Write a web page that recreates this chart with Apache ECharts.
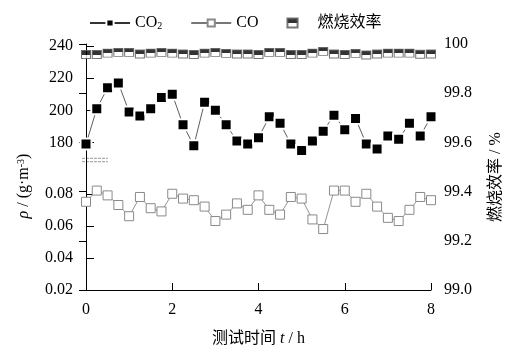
<!DOCTYPE html>
<html><head><meta charset="utf-8">
<script src="https://cdn.jsdelivr.net/npm/echarts@6/dist/echarts.min.js"></script>
<style>html,body{margin:0;padding:0;background:#fff}#c{width:506px;height:347px}</style>
</head><body><div id="c"></div>
<script>
const hours = [0,0.25,0.5,0.75,1,1.25,1.5,1.75,2,2.25,2.5,2.75,3,3.25,3.5,3.75,4,4.25,4.5,4.75,5,5.25,5.5,5.75,6,6.25,6.5,6.75,7,7.25,7.5,7.75,8];
const co2 = [179,201,214,217,199,196.5,201,208,210,191,178,205,200,191,181,179,183,196,192,179,175,181,187,197,188,195,179,176,184,182,192,184,196];
const co = [0.075,0.082,0.079,0.073,0.066,0.078,0.071,0.069,0.080,0.077,0.076,0.072,0.063,0.067,0.074,0.070,0.079,0.070,0.067,0.078,0.077,0.064,0.058,0.082,0.082,0.075,0.080,0.072,0.065,0.063,0.070,0.078,0.076];
const efficiency = [99.957,99.957,99.963,99.966,99.966,99.959,99.963,99.966,99.963,99.959,99.957,99.963,99.966,99.962,99.959,99.959,99.957,99.966,99.966,99.957,99.957,99.963,99.970,99.959,99.957,99.962,99.955,99.959,99.963,99.963,99.963,99.958,99.959];
const co2Ticks = [180,200,220,240];
const coTicks = [0.02,0.04,0.06,0.08];

const FONT = "'Liberation Serif', 'Noto Sans CJK SC', serif";
const chart = echarts.init(document.getElementById('c'), null, {renderer:'canvas'});
const pair = arr => hours.map((h,i)=>[h, arr[i]]);
const black = {color:'#000', width:1};
const lbl = {fontFamily:FONT, fontSize:16, color:'#000'};
const halfFill = new echarts.graphic.LinearGradient(0,0,0,1,[
  {offset:0,color:'#000'},{offset:0.5,color:'#000'},{offset:0.5,color:'#fff'},{offset:1,color:'#fff'}]);

const option = {
  animation:false,
  textStyle:{fontFamily:FONT},
  legend:{
    top:10, left:84, itemWidth:40, itemHeight:9, itemGap:28,
    data:['CO2','CO',{name:'燃烧效率',icon:'path://M0,0h9v8h-9z'}],
    formatter: n => n==='CO2' ? 'CO{sub|2}' : n,
    textStyle:{fontFamily:FONT, fontSize:16, color:'#000',
      rich:{sub:{fontFamily:FONT, fontSize:10, color:'#000', verticalAlign:'bottom', padding:[6,0,0,0]}}}
  },
  grid:[
    {left:86,right:75,top:44,bottom:57,outerBoundsMode:'none',containLabel:false},
    {left:86,right:75,top:46,bottom:188.4,outerBoundsMode:'none',containLabel:false},
    {left:86,right:75,top:161.7,bottom:57,outerBoundsMode:'none',containLabel:false}
  ],
  xAxis:[
    {gridIndex:0,type:'value',min:0,max:8,interval:2,
      axisLine:{onZero:false,lineStyle:black},
      axisTick:{inside:true,length:7,lineStyle:black},
      axisLabel:Object.assign({margin:12},lbl),
      splitLine:{show:false},
      name:'测试时间 {i|t} / h', nameLocation:'middle', nameGap:41,
      nameTextStyle:{fontFamily:FONT,fontSize:16,color:'#000',
        rich:{i:{fontStyle:'italic',fontFamily:FONT,fontSize:16,color:'#000'}}}},
    {gridIndex:1,type:'value',min:0,max:8,show:false},
    {gridIndex:2,type:'value',min:0,max:8,show:false}
  ],
  yAxis:[
    {gridIndex:0,type:'value',position:'right',min:99,max:100,interval:0.2,
      axisLine:{show:true,lineStyle:black},
      axisTick:{show:true,inside:true,length:7,lineStyle:black},
      axisLabel:Object.assign({margin:13,formatter:v=> v>=99.999?'100':v.toFixed(1)},lbl),
      splitLine:{show:false}},
    {gridIndex:1,type:'value',position:'left',min:170,max:240,
      axisLine:{show:true,lineStyle:black},
      axisTick:{show:true,inside:true,length:8,lineStyle:black,customValues:co2Ticks},
      axisLabel:Object.assign({margin:13,customValues:co2Ticks},lbl),
      splitLine:{show:false}},
    {gridIndex:2,type:'value',position:'left',min:0.02,max:0.10,
      axisLine:{show:true,lineStyle:black},
      axisTick:{show:true,inside:true,length:8,lineStyle:black,customValues:coTicks},
      axisLabel:Object.assign({margin:13,customValues:coTicks,formatter:v=>v.toFixed(2)},lbl),
      splitLine:{show:false}}
  ],
  series:[
    {name:'CO2',type:'line',xAxisIndex:1,yAxisIndex:1,data:pair(co2),
      symbol:'rect',symbolSize:11,showSymbol:true,z:5,
      itemStyle:{color:'#000',borderColor:'#fff',borderWidth:2},
      lineStyle:{color:'#333',width:0.8}},
    {name:'CO',type:'line',xAxisIndex:2,yAxisIndex:2,data:pair(co),
      symbol:'rect',symbolSize:9,showSymbol:true,z:4,
      itemStyle:{color:'#fff',borderColor:'#8a8a8a',borderWidth:1},
      lineStyle:{color:'#777',width:0.8}},
    {name:'燃烧效率',type:'scatter',xAxisIndex:0,yAxisIndex:0,data:pair(efficiency),
      symbol:'rect',symbolSize:[9,8],z:3,
      itemStyle:{color:halfFill,borderColor:'#555',borderWidth:1}}
  ],
  graphic:[
    {type:'line',shape:{x1:82,y1:158.3,x2:108,y2:158.3},style:{stroke:'#999',lineWidth:1,lineDash:[3,1]}},
    {type:'line',shape:{x1:82,y1:161.7,x2:108,y2:161.7},style:{stroke:'#999',lineWidth:1,lineDash:[3,1]}},
    {type:'text',x:24,y:186,rotation:Math.PI/2,
      style:{x:0,y:0,text:'{i|ρ} / (g·m{sup|-3})',align:'center',verticalAlign:'middle',
        font:"16px 'Liberation Serif', 'Noto Sans CJK SC', serif",fill:'#000',
        rich:{i:{fontStyle:'italic',fontSize:16,fontFamily:FONT,fill:'#000'},
              sup:{fontSize:10,fontFamily:FONT,fill:'#000',verticalAlign:'top',padding:[0,0,6,0]}}}},
    {type:'text',x:496,y:177,rotation:Math.PI/2,
      style:{x:0,y:0,text:'燃烧效率 / %',align:'center',verticalAlign:'middle',
        font:"16px 'Liberation Serif', 'Noto Sans CJK SC', serif",fill:'#000'}}
  ]
};
chart.setOption(option);
</script>
</body></html>
